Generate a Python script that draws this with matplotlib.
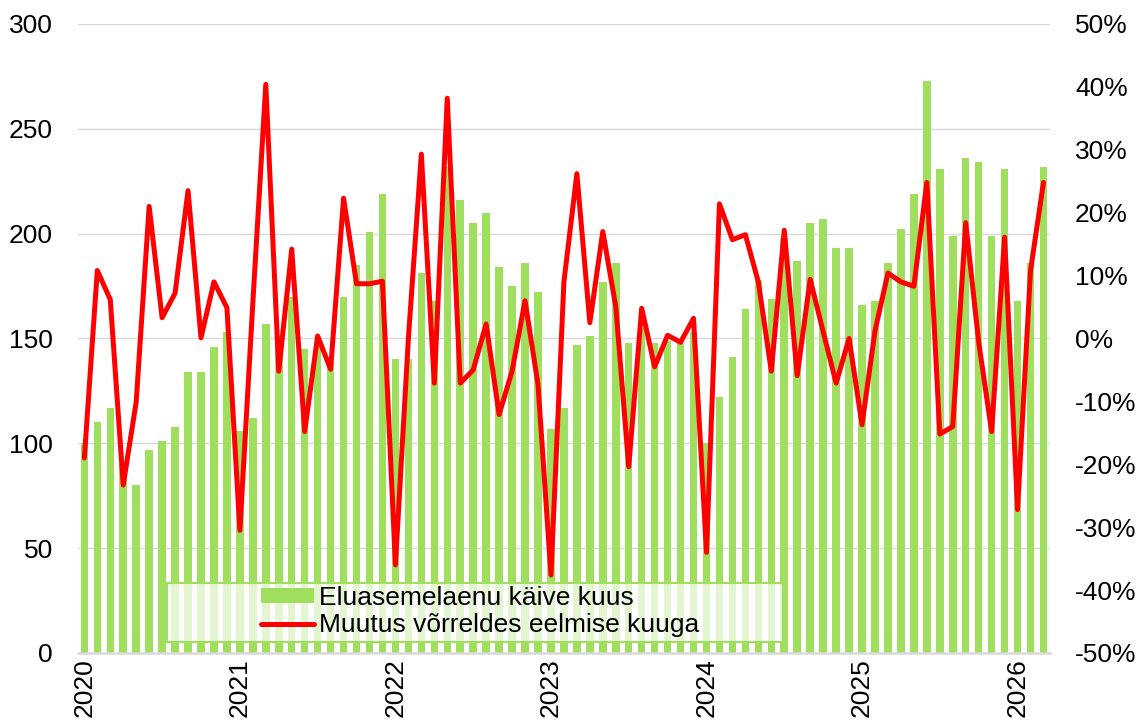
import matplotlib
matplotlib.use("Agg")
import matplotlib.pyplot as plt
from matplotlib.patches import Rectangle
from matplotlib.ticker import FuncFormatter

plt.rcParams['font.family'] = ['Liberation Sans', 'DejaVu Sans']

# Monthly data Jan 2020 .. Mar 2026
loan_volume = [
    100, 110, 117, 90, 80, 97, 101, 108, 134, 134, 146, 153,   # 2020
    106, 112, 157, 149, 170, 145, 146, 139, 170, 185, 201, 219,  # 2021
    140, 140, 181, 168, 232, 216, 205, 210, 184, 175, 186, 172,  # 2022
    107, 117, 147, 151, 177, 186, 148, 155, 148, 149, 148, 153,  # 2023
    100, 122, 141, 164, 178, 169, 198, 187, 205, 207, 193, 193,  # 2024
    166, 168, 186, 202, 219, 273, 231, 199, 236, 234, 199, 231,  # 2025
    168, 186, 232,                                               # 2026
]
monthly_change_pct = [
    -19.0, 10.8, 6.2, -23.3, -10.1, 21.0, 3.3, 7.2, 23.5, 0.1, 9.0, 4.9,
    -30.5, 5.7, 40.4, -5.2, 14.2, -14.8, 0.4, -4.9, 22.3, 8.7, 8.7, 9.1,
    -36.0, 0.0, 29.3, -7.1, 38.2, -7.1, -5.0, 2.3, -12.1, -5.2, 6.0, -7.3,
    -37.6, 9.0, 26.2, 2.5, 17.0, 5.1, -20.4, 4.8, -4.5, 0.5, -0.6, 3.2,
    -34.0, 21.4, 15.7, 16.5, 9.0, -5.2, 17.2, -5.9, 9.4, 1.1, -7.1, 0.0,
    -13.7, 1.2, 10.4, 9.0, 8.3, 24.8, -15.2, -14.0, 18.4, -0.6, -14.8, 16.1,
    -27.2, 10.8, 24.8,
]
year_labels = ['2020', '2021', '2022', '2023', '2024', '2025', '2026']
legend_labels = ['Eluasemelaenu käive kuus', 'Muutus võrreldes eelmise kuuga']

x = list(range(len(loan_volume)))
year_ticks = [12 * i for i in range(len(year_labels))]

fig = plt.figure(figsize=(11.45, 7.22), dpi=100)
ax = fig.add_axes([0.068, 0.0956, 0.849, 0.8712])
ax2 = ax.twinx()

bar_color = '#a0de5e'
bars = ax.bar(x, loan_volume, width=0.58, color=bar_color, zorder=2)
line, = ax2.plot(x, monthly_change_pct, color='#ff0000', linewidth=3.6,
                 solid_joinstyle='round', solid_capstyle='round', zorder=3)

ax.set_xlim(-0.5, len(x) - 0.5)
ax.set_ylim(0, 300)
ax.set_yticks(range(0, 301, 50))
ax2.set_ylim(-50, 50)
ax2.set_yticks(range(-50, 51, 10))
ax2.yaxis.set_major_formatter(FuncFormatter(lambda v, p: f'{int(v)}%'))

ax.grid(axis='y', color='#d9d9d9', linewidth=1.0, zorder=0)
ax.set_axisbelow(True)

for a in (ax, ax2):
    for s in ('top', 'left', 'right', 'bottom'):
        a.spines[s].set_visible(False)
ax.spines['bottom'].set_visible(True)
ax.spines['bottom'].set_color('#d9d9d9')
ax.spines['bottom'].set_linewidth(1.8)

ax.set_xticks(year_ticks)
ax.set_xticklabels(year_labels, rotation=90, va='top', ha='center')
ax.tick_params(axis='x', length=0, pad=4, labelsize=19)
ax.tick_params(axis='y', length=0, pad=18, labelsize=19)
ax2.tick_params(axis='y', length=0, pad=18, labelsize=19)

# legend box
box = (0.0916, 0.018)
bw, bh = 0.634, 0.094
rect = Rectangle(box, bw, bh, transform=ax2.transAxes,
                 facecolor='white', alpha=0.72, edgecolor='none', zorder=4)
ax2.add_patch(rect)
rect2 = Rectangle(box, bw, bh, transform=ax2.transAxes,
                  facecolor='none', edgecolor=bar_color, linewidth=1.5, zorder=4)
ax2.add_patch(rect2)
leg = ax2.legend([bars, line], legend_labels, loc='center',
                 bbox_to_anchor=(0.4136, 0.066), frameon=False, fontsize=19,
                 handlelength=2.0, handleheight=0.5, handletextpad=0.2,
                 labelspacing=0.12, borderpad=0.0)
leg.set_zorder(5)

fig.savefig('out.png', dpi=100)
